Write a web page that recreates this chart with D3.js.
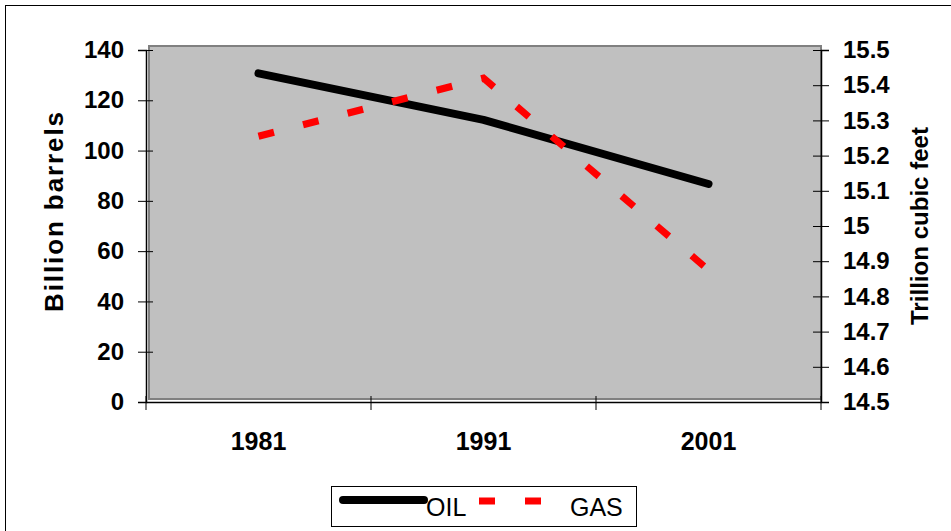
<!DOCTYPE html>
<html>
<head>
<meta charset="utf-8">
<script src="https://cdn.jsdelivr.net/npm/d3@7"></script>
<style>
  body { margin: 0; background: #fff; }
  svg { display: block; font-family: "Liberation Sans", Arial, sans-serif; }
</style>
</head>
<body>
<div id="chart"></div>
<script>
// chart data
const years = ["1981", "1991", "2001"];
const oil = [130.7, 112.2, 86.7];      // billion barrels (left axis)
const gas = [15.255, 15.42, 14.875];   // trillion cubic feet (right axis)
const leftTicks = [0, 20, 40, 60, 80, 100, 120, 140];
const rightTicks = [14.5, 14.6, 14.7, 14.8, 14.9, 15, 15.1, 15.2, 15.3, 15.4, 15.5];

const width = 951, height = 531;
const plot = {left: 146, right: 821, top: 50, bottom: 402};

const svg = d3.select("#chart").append("svg")
    .attr("width", width)
    .attr("height", height);

// outer chart border (runs off the right/bottom edge like the original)
svg.append("rect")
    .attr("x", 5.5).attr("y", 5.5)
    .attr("width", 960).attr("height", 540)
    .attr("fill", "#fff")
    .attr("stroke", "#000")
    .attr("stroke-width", 1);

const x = d3.scaleBand().domain(years).range([plot.left, plot.right]);
const yL = d3.scaleLinear().domain([0, 140]).range([plot.bottom, plot.top]);
const yR = d3.scaleLinear().domain([14.5, 15.5]).range([plot.bottom, plot.top]);

// plot area
svg.append("rect")
    .attr("x", plot.left + 3).attr("y", plot.top - 4)
    .attr("width", plot.right - plot.left - 3).attr("height", plot.bottom - plot.top + 1)
    .attr("fill", "#c0c0c0")
    .attr("stroke", "#808080")
    .attr("stroke-width", 2);

// left axis
const gL = svg.append("g")
    .attr("transform", `translate(${plot.left},0)`)
    .call(d3.axisLeft(yL).tickValues(leftTicks).tickSize(8).tickPadding(14));
gL.selectAll(".tick line").attr("x2", 7).attr("x1", -8);

// right axis
const gR = svg.append("g")
    .attr("transform", `translate(${plot.right},0)`)
    .call(d3.axisRight(yR).tickValues(rightTicks).tickFormat(d3.format("")).tickSize(8).tickPadding(14));
gR.selectAll(".tick line").attr("x1", -8).attr("x2", 8);

// bottom axis: labels at category centres, ticks at category boundaries
const gB = svg.append("g")
    .attr("transform", `translate(0,${plot.bottom})`)
    .call(d3.axisBottom(x).tickSize(0).tickPadding(30));
gB.selectAll(".boundary")
    .data(years.map(d => x(d)).concat([plot.right]))
    .join("line")
    .attr("class", "boundary")
    .attr("x1", d => d).attr("x2", d => d)
    .attr("y1", -6).attr("y2", 8)
    .attr("stroke", "#000");

[gL, gR, gB].forEach(g => {
    g.select(".domain").attr("stroke", "#000").attr("stroke-width", 1.5);
    g.selectAll(".tick line").attr("stroke", "#000");
    g.selectAll("text")
        .attr("fill", "#000")
        .style("font-size", "24px")
        .style("font-weight", "bold")
        .style("font-family", "'Liberation Sans', Arial, sans-serif");
});
gB.selectAll("text").style("font-size", "25px");

// axis titles
svg.append("text")
    .attr("transform", "translate(63,212) rotate(-90)")
    .attr("text-anchor", "middle")
    .attr("textLength", 200)
    .attr("lengthAdjust", "spacing")
    .style("font-size", "26px")
    .style("font-weight", "bold")
    .text("Billion barrels");

svg.append("text")
    .attr("transform", "translate(928,226) rotate(-90)")
    .attr("text-anchor", "middle")
    .attr("textLength", 198)
    .attr("lengthAdjust", "spacing")
    .style("font-size", "24px")
    .style("font-weight", "bold")
    .text("Trillion cubic feet");

const cx = d => x(d) + x.bandwidth() / 2;

// OIL line
svg.append("path")
    .datum(oil)
    .attr("fill", "none")
    .attr("stroke", "#000")
    .attr("stroke-width", 8)
    .attr("stroke-linecap", "round")
    .attr("stroke-linejoin", "round")
    .attr("d", d3.line().x((d, i) => cx(years[i])).y(d => yL(d)));

// GAS line
svg.append("path")
    .datum(gas)
    .attr("fill", "none")
    .attr("stroke", "#ff0000")
    .attr("stroke-width", 7)
    .attr("stroke-dasharray", "16,30")
    .attr("d", d3.line().x((d, i) => cx(years[i])).y(d => yR(d)));

// legend
const lg = svg.append("g");
lg.append("rect")
    .attr("x", 331.5).attr("y", 486.5)
    .attr("width", 305).attr("height", 40)
    .attr("fill", "#fff")
    .attr("stroke", "#000");
lg.append("line")
    .attr("x1", 343).attr("x2", 424).attr("y1", 500).attr("y2", 500)
    .attr("stroke", "#000").attr("stroke-width", 8).attr("stroke-linecap", "round");
lg.append("text")
    .attr("x", 426).attr("y", 516)
    .style("font-size", "25px")
    .text("OIL");
lg.append("line")
    .attr("x1", 479).attr("x2", 545).attr("y1", 501).attr("y2", 501)
    .attr("stroke", "#ff0000").attr("stroke-width", 7).attr("stroke-dasharray", "16,30");
lg.append("text")
    .attr("x", 570).attr("y", 516)
    .style("font-size", "25px")
    .text("GAS");
</script>
</body>
</html>
